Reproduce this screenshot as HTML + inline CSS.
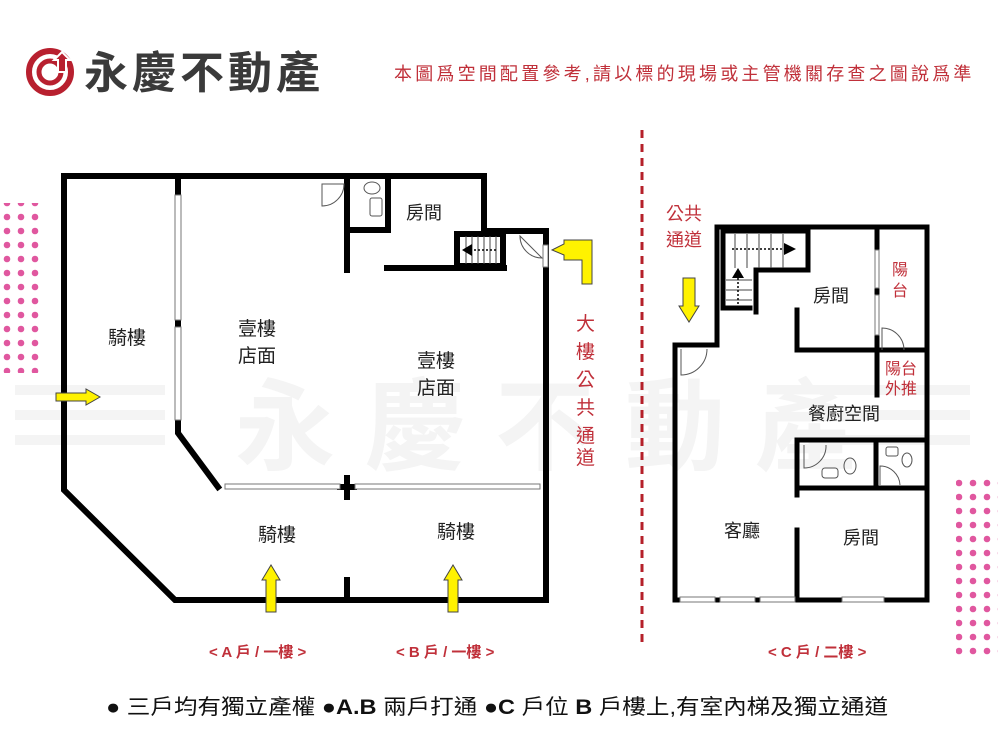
<!DOCTYPE html>
<html><head><meta charset="utf-8"><style>
body{margin:0;background:#fff;width:1000px;height:750px;overflow:hidden}
svg{display:block}
text{font-family:"Liberation Sans","Noto Sans CJK TC",sans-serif}
</style></head><body>
<svg width="1000" height="750" viewBox="0 0 1000 750">
<defs>
<pattern id="dots" x="0" y="0" width="14" height="14" patternUnits="userSpaceOnUse"><circle cx="7" cy="7" r="3.3" fill="#e0579f"/></pattern>
</defs>
<rect x="2" y="203" width="42" height="170" fill="url(#dots)"/>
<rect x="956" y="476" width="42" height="182" fill="url(#dots)"/>
<g fill="#f4f4f4">
<rect x="15" y="385" width="150" height="10"/><rect x="15" y="410" width="150" height="10"/><rect x="15" y="435" width="150" height="10"/>
<rect x="820" y="385" width="150" height="10"/><rect x="820" y="410" width="150" height="10"/><rect x="820" y="435" width="150" height="10"/>
</g>
<text x="235" y="462" font-size="100" fill="#f4f4f4" font-weight="bold" letter-spacing="30">永慶不動產</text>
<circle cx="50" cy="72" r="21" fill="none" stroke="#b8202f" stroke-width="6"/>
<circle cx="50" cy="72" r="11" fill="none" stroke="#b8202f" stroke-width="5"/>
<path d="M58 72 L58 60 L54 60 L62 52 L70 60 L66 60 L66 72Z" fill="#b8202f" stroke="#fff" stroke-width="2"/>
<text x="84" y="88" font-size="44" fill="#3a3a3a" font-weight="bold" letter-spacing="4">永慶不動產</text>
<text x="394" y="80" font-size="18" fill="#c0303a" letter-spacing="3.2">本圖爲空間配置參考,請以標的現場或主管機關存查之圖說爲準</text>
<line x1="642" y1="130" x2="642" y2="645" stroke="#b5202a" stroke-width="3" stroke-dasharray="8,6"/>
<g fill="none" stroke="#000" stroke-width="6" stroke-linecap="square">
<path d="M64 176 L484 176 L484 231 L546 231 L546 600 L175 600 L64 490 Z"/>
<line x1="178" y1="176" x2="178" y2="195"/>
<line x1="178" y1="320" x2="178" y2="327"/>
<path d="M178 420 L178 433 L218 487"/>
<line x1="347" y1="176" x2="347" y2="270"/>
<path d="M347 230 L388 230 L388 176"/>
<line x1="387" y1="268" x2="504" y2="268"/>
<rect x="457" y="234" width="46" height="32"/>
<line x1="347" y1="478" x2="347" y2="497"/>
<line x1="340" y1="487" x2="354" y2="487"/>
<line x1="347" y1="580" x2="347" y2="600"/>
</g>
<g stroke="#777" stroke-width="1" fill="#fff">
<rect x="175" y="195" width="6" height="125"/><rect x="175" y="327" width="6" height="93"/>
<rect x="225" y="484" width="115" height="5"/><rect x="355" y="484" width="185" height="5"/>
<rect x="543" y="245" width="5" height="22"/>
</g>
<g fill="none" stroke="#555" stroke-width="1">
<path d="M344 184 A22 22 0 0 1 322 206 L322 184 Z"/>
<path d="M520 236 A22 22 0 0 0 542 258 L520 236 Z"/>
<ellipse cx="372" cy="188" rx="8" ry="6"/><rect x="370" y="198" width="12" height="18" rx="2"/>
</g>
<g stroke="#444" stroke-width="1"><line x1="466" y1="236" x2="466" y2="264"/><line x1="472" y1="236" x2="472" y2="264"/><line x1="478" y1="236" x2="478" y2="264"/><line x1="484" y1="236" x2="484" y2="264"/><line x1="490" y1="236" x2="490" y2="264"/><line x1="496" y1="236" x2="496" y2="264"/></g>
<line x1="470" y1="250" x2="496" y2="250" stroke="#000" stroke-width="1.5" stroke-dasharray="2,2"/>
<path d="M462 250 L472 244 L472 256Z" fill="#000"/>
<g fill="#fff200" stroke="#444" stroke-width="1">
<path d="M56 393 L86 393 L86 389 L100 397 L86 405 L86 401 L56 401 Z"/>
<path d="M266 612 L266 580 L262 580 L271 565 L280 580 L276 580 L276 612Z"/>
<path d="M448 612 L448 580 L444 580 L453 565 L462 580 L458 580 L458 612Z"/>
<path d="M590 284 L590 260 L572 260 L572 255 L560 250 L572 244 L572 240 L590 240 L600 240 L600 284Z" transform="translate(-8,0)"/>
<path d="M683 278 L683 306 L679 306 L689 322 L699 306 L695 306 L695 278Z"/>
</g>
<g font-size="19" fill="#222">
<text x="108" y="344">騎樓</text>
<text x="238" y="335">壹樓</text><text x="238" y="362">店面</text>
<text x="417" y="367">壹樓</text><text x="417" y="394">店面</text>
<text x="258" y="541">騎樓</text><text x="437" y="538">騎樓</text>
</g>
<text x="406" y="219" font-size="18" fill="#222">房間</text>
<g font-size="19" fill="#c0303a"><text x="576" y="330">大</text><text x="576" y="358">樓</text><text x="576" y="386">公</text><text x="576" y="414">共</text><text x="576" y="442">通</text><text x="576" y="464">道</text></g>
<g fill="none" stroke="#000" stroke-width="5" stroke-linecap="square">
<path d="M717 227 L927 227 L927 600 L675 600 L675 345 L717 345 Z"/>
<path d="M723 231 L808 231 L808 270 L756 270 L756 312"/>
<path d="M723 231 L723 308 L750 308"/>
<path d="M797 310 L797 350 L927 350"/>
<line x1="877" y1="227" x2="877" y2="395"/>
<path d="M797 440 L927 440"/><path d="M797 440 L797 495"/><path d="M797 488 L927 488"/>
<line x1="876" y1="440" x2="876" y2="488"/>
<line x1="797" y1="530" x2="797" y2="600"/>
</g>
<g stroke="#777" stroke-width="1" fill="#fff">
<rect x="875" y="250" width="4" height="38"/><rect x="875" y="295" width="4" height="40"/>
<rect x="680" y="597" width="35" height="5"/><rect x="720" y="597" width="35" height="5"/><rect x="760" y="597" width="35" height="5"/><rect x="842" y="597" width="42" height="5"/>
</g>
<g fill="none" stroke="#555" stroke-width="1">
<path d="M681 349 L681 375 A26 26 0 0 0 707 349"/>
<path d="M882 350 L882 328 A22 22 0 0 1 904 350"/>
<path d="M804 445 L804 468 A22 22 0 0 0 826 445"/>
<path d="M880 485 L880 466 A20 20 0 0 1 900 485"/>
<rect x="822" y="468" width="16" height="10" rx="3"/><ellipse cx="850" cy="466" rx="6" ry="8"/>
<rect x="886" y="447" width="12" height="9" rx="2"/><ellipse cx="907" cy="460" rx="5" ry="7"/>
</g>
<g stroke="#444" stroke-width="1"><line x1="735" y1="234" x2="735" y2="268"/><line x1="747" y1="234" x2="747" y2="268"/><line x1="759" y1="234" x2="759" y2="268"/><line x1="771" y1="234" x2="771" y2="268"/><line x1="783" y1="234" x2="783" y2="268"/>
<line x1="726" y1="280" x2="752" y2="280"/><line x1="726" y1="290" x2="752" y2="290"/><line x1="726" y1="300" x2="752" y2="300"/></g>
<line x1="732" y1="249" x2="784" y2="249" stroke="#000" stroke-width="1.5" stroke-dasharray="2,2"/>
<path d="M796 249 L784 243 L784 255Z" fill="#000"/>
<line x1="738" y1="278" x2="738" y2="305" stroke="#000" stroke-width="1.5" stroke-dasharray="2,2"/>
<path d="M738 268 L732 278 L744 278Z" fill="#000"/>
<g font-size="18" fill="#222">
<text x="813" y="302">房間</text><text x="808" y="420">餐廚空間</text><text x="724" y="537">客廳</text><text x="843" y="544">房間</text>
</g>
<g font-size="16" fill="#c0303a"><text x="892" y="275">陽</text><text x="892" y="296">台</text><text x="885" y="374">陽台</text><text x="885" y="394">外推</text></g>
<g font-size="18" fill="#c0303a"><text x="666" y="220">公共</text><text x="666" y="246">通道</text></g>
<g font-size="15" fill="#c0303a" font-weight="bold"><text x="209" y="657">&lt; A 戶 / 一樓 &gt;</text><text x="396" y="657">&lt; B 戶 / 一樓 &gt;</text><text x="768" y="657">&lt; C 戶 / 二樓 &gt;</text></g>
<text x="106" y="714" font-size="21" fill="#111" textLength="782" lengthAdjust="spacingAndGlyphs">● 三戶均有獨立產權 ●<tspan font-weight="bold">A.B</tspan> 兩戶打通 ●<tspan font-weight="bold">C</tspan> 戶位 <tspan font-weight="bold">B</tspan> 戶樓上,有室內梯及獨立通道</text>
</svg>
</body></html>
